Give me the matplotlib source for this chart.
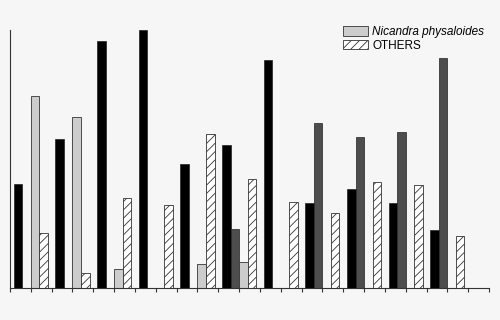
import numpy as np
import matplotlib.pyplot as plt

plt.rcParams['font.family'] = ['Liberation Sans', 'DejaVu Sans']
plt.rcParams['hatch.linewidth'] = 0.6

# bar heights (arbitrary units, axis top = 258)
groups = list(range(11))
black = [104, 149, 247, 258, 124, 143, 228, 85, 99, 85, 58]
dark_gray = [0, 0, 0, 0, 0, 59, 0, 165, 151, 156, 230]
nicandra = [192, 171, 19, 0, 24, 26, 0, 0, 0, 0, 0]
others = [55, 15, 90, 83, 154, 109, 86, 75, 106, 103, 52]

fig = plt.figure(figsize=(5, 3.2), dpi=100)
fig.patch.set_facecolor('#f6f6f6')
ax = fig.add_axes([0.02, 0.1, 0.958, 0.806])
ax.set_facecolor('#f6f6f6')

x = np.array(groups)
w = 0.205
ax.bar(x - 1.5 * w, black, w, color='black', edgecolor='#222222', linewidth=0.5)
ax.bar(x - 0.5 * w, dark_gray, w, color='#4d4d4d', edgecolor='#222222', linewidth=0.5)
ax.bar(x + 0.5 * w, nicandra, w, color='#cccccc', edgecolor='#333333', linewidth=0.6,
       label='Nicandra physaloides')
ax.bar(x + 1.5 * w, others, w, color='white', edgecolor='#333333', linewidth=0.6,
       hatch='////', label='OTHERS')

ax.set_xlim(-0.5, 11.0)
ax.set_ylim(0, 258)
ax.set_xticks(np.arange(-0.5, 11.01, 0.5))
ax.set_xticklabels([])
ax.set_yticks([])
ax.tick_params(axis='x', direction='out', length=3, width=0.8, color='#333333')
for s in ['top', 'right']:
    ax.spines[s].set_visible(False)
for s in ['left', 'bottom']:
    ax.spines[s].set_color('#333333')
    ax.spines[s].set_linewidth(0.8)

leg = ax.legend(loc='upper right', bbox_to_anchor=(1.0, 1.035), frameon=False,
                fontsize=8.5, handlelength=2.1, handleheight=0.9,
                handletextpad=0.4, labelspacing=0.15, borderaxespad=0)
leg.get_texts()[0].set_style('italic')

fig.savefig('out.png', dpi=100, facecolor=fig.get_facecolor())
